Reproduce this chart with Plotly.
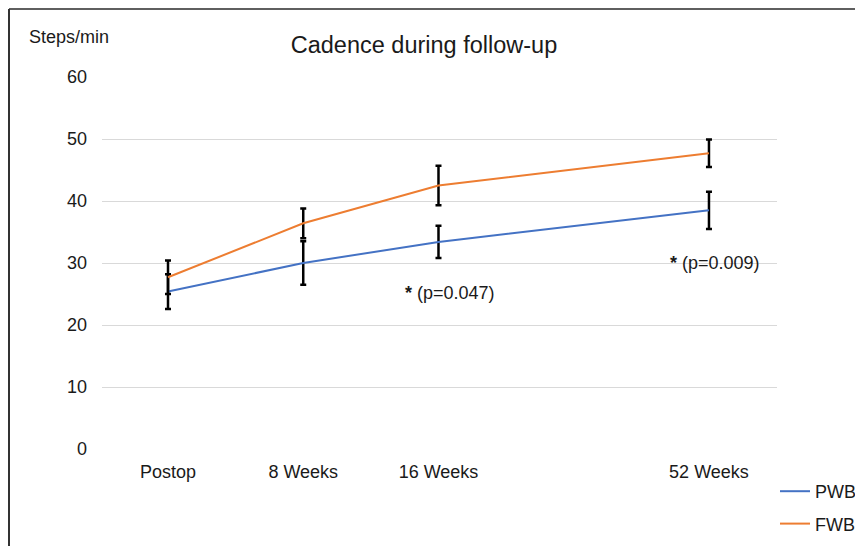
import plotly.graph_objects as go

# Data
categories = ["Postop", "8 Weeks", "16 Weeks", "52 Weeks"]
cat_pos = [0, 1, 2, 4]  # 52 Weeks drawn further out, as in the reference
pwb_mean = [25.4, 30.0, 33.4, 38.5]
pwb_err = [2.8, 3.5, 2.6, 3.0]
fwb_mean = [27.7, 36.4, 42.5, 47.7]
fwb_err = [2.7, 2.4, 3.2, 2.2]
y_ticks = [0, 10, 20, 30, 40, 50, 60]
p_notes = ["<b>*</b> (p=0.047)", "<b>*</b> (p=0.009)"]
p_note_x = [2.085, 4.044]
p_note_y = [25.2, 29.95]

FONT = "Liberation Sans, Arial, Helvetica, sans-serif"
TXT = "#1a1a1a"

fig = go.Figure()
fig.add_trace(go.Scatter(
    x=cat_pos, y=pwb_mean, name="PWB", mode="lines",
    line=dict(color="#4472C4", width=2),
    error_y=dict(type="data", array=pwb_err, visible=True, color="black", thickness=2.5, width=3),
    legendgroup="a",
))
fig.add_trace(go.Scatter(
    x=cat_pos, y=fwb_mean, name="FWB", mode="lines",
    line=dict(color="#ED7D31", width=2),
    error_y=dict(type="data", array=fwb_err, visible=True, color="black", thickness=2.5, width=3),
    legendgroup="b",
))

for t, xx, yy in zip(p_notes, p_note_x, p_note_y):
    fig.add_annotation(x=xx, y=yy, xref="x", yref="y", text=t, showarrow=False,
                       font=dict(size=18, color=TXT, family=FONT))

# page body has an 8px margin: figure pixel = screen pixel - 8
OFF = 8
W, H = 863 - OFF, 546 - OFF
ml, mt = 102 - OFF, 77 - OFF
mr = W - (777 - OFF)
mb = H - (449 - OFF)
pw, ph = W - ml - mr, H - mt - mb

def px2paper_x(px):  # px in screen coordinates
    return (px - OFF - ml) / pw

def px2paper_y(py):
    return (H - mb - (py - OFF)) / ph

fig.add_annotation(x=px2paper_x(69), y=px2paper_y(37), xref="paper", yref="paper",
                   xanchor="center", yanchor="middle", text="Steps/min", showarrow=False,
                   font=dict(size=18, color=TXT, family=FONT))

# image frame (top and left edges)
fig.add_shape(type="line", xref="paper", yref="paper",
              x0=px2paper_x(9), x1=px2paper_x(880), y0=px2paper_y(9), y1=px2paper_y(9),
              line=dict(color="#5f5f5f", width=2))
fig.add_shape(type="line", xref="paper", yref="paper",
              x0=px2paper_x(9), x1=px2paper_x(9), y0=px2paper_y(9), y1=px2paper_y(580),
              line=dict(color="#333333", width=2))

fig.update_layout(
    width=W, height=H,
    margin=dict(l=ml, r=mr, t=mt, b=mb, autoexpand=False),
    paper_bgcolor="white", plot_bgcolor="white",
    font=dict(family=FONT, size=18, color=TXT),
    title=dict(text="Cadence during follow-up", x=(424 - OFF) / W, xref="container", xanchor="center",
               y=1 - (45 - OFF) / H, yref="container", yanchor="middle",
               font=dict(size=23.5, color=TXT, family=FONT)),
    showlegend=True,
    legend=dict(x=px2paper_x(775), xanchor="left", y=px2paper_y(473), yanchor="top",
                font=dict(size=18, color=TXT, family=FONT), traceorder="grouped",
                tracegroupgap=6, itemwidth=30, bgcolor="rgba(0,0,0,0)"),
    xaxis=dict(range=[-0.488, 4.503], tickvals=cat_pos, ticktext=categories,
               showgrid=False, zeroline=False, showline=False, ticks="",
               ticklabelstandoff=10, fixedrange=True),
    yaxis=dict(range=[0, 60], tickvals=y_ticks, showgrid=True, gridcolor="#d9d9d9", gridwidth=1,
               zeroline=False, showline=False, ticks="", ticklabelstandoff=14, fixedrange=True),
)

fig.write_html("out.html")
